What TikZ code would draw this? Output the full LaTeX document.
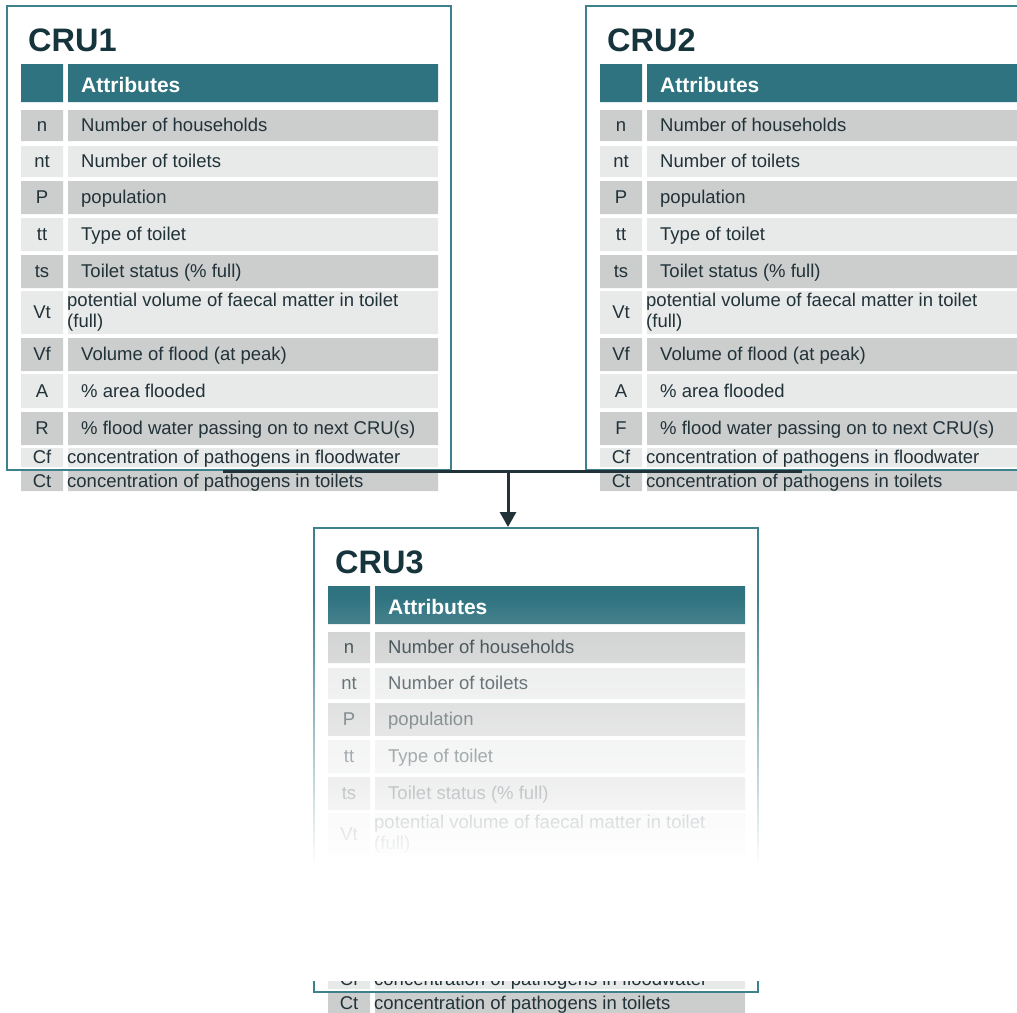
\documentclass[tikz,border=0pt]{standalone}
\usepackage{fontspec}
\setmainfont{Liberation Sans}
\usetikzlibrary{arrows.meta,fadings}

\definecolor{cteal}{RGB}{47,115,128}
\definecolor{cframe}{RGB}{62,128,140}
\definecolor{cdark}{RGB}{204,205,205}
\definecolor{clight}{RGB}{232,233,233}
\definecolor{cink}{RGB}{33,50,56}
\definecolor{ctitle}{RGB}{22,52,60}

\tikzfading[name=fade down, top color=transparent!100, bottom color=transparent!0]

\tikzset{
  crusheet/.style={x=1pt,y=-1pt},
  cruframe/.style={draw=cframe,line width=2pt,minimum width=444pt,minimum height=464pt,inner sep=0pt},
  crutitle/.style={anchor=base west,inner sep=0pt,text=ctitle,font=\fontsize{32.5}{33}\selectfont\bfseries},
  headtext/.style={anchor=base west,inner sep=0pt,text=white,font=\fontsize{21}{21}\selectfont\bfseries},
  keytext/.style={anchor=base,inner sep=0pt,yshift=-6pt,text=cink,font=\fontsize{18.5}{21}\selectfont},
  attrin/.style={anchor=base west,inner sep=0pt,xshift=14pt,yshift=-6pt,text=cink,font=\fontsize{18.5}{21}\selectfont},
  attrflush/.style={anchor=base west,inner sep=0pt,yshift=-6pt,text=cink,font=\fontsize{18.5}{21}\selectfont},
  attrwrap/.style={anchor=west,inner sep=0pt,align=left,text=cink,font=\fontsize{18.5}{21}\selectfont},
  flowline/.style={draw=cink,line width=3pt},
}

% rows: id/top/bottom/fill/style/abbreviation/description
\def\rowstop{n/110/141/cdark/attrin/n/Number of households,
  nt/146/177/clight/attrin/nt/Number of toilets,
  P/181/214/cdark/attrin/P/population,
  tt/218/251/clight/attrin/tt/Type of toilet,
  ts/255/288/cdark/attrin/ts/Toilet status (\% full),
  Vt/291/334/clight/attrwrap/Vt/potential volume of faecal matter in toilet\\(full)}
\def\rowsbottom{Cf/448/467/clight/attrflush/Cf/concentration of pathogens in floodwater,
  Ct/471/491/cdark/attrflush/Ct/concentration of pathogens in toilets}

\newcommand{\crurows}[2]{% #1 sheet number, #2 row list
  \foreach \id/\ya/\yb/\fillc/\tstyle/\abbr/\descr in #2 {
    \fill[\fillc] (21,\ya) rectangle (63,\yb) (68,\ya) rectangle (438,\yb);
    \node[keytext] (cru#1-\id k) at (42,{(\ya+\yb)/2}) {\abbr};
    \node[\tstyle] (cru#1-\id) at (67,{(\ya+\yb)/2}) {\descr};
  }}

\newcommand{\crusheet}[1]{% #1 sheet number
  \node[cruframe] (cru#1) at (229,238) {};
  \node[crutitle] (cru#1-title) at (28,51.5) {CRU#1};
  \fill[cteal] (21,64) rectangle (63,102) (68,64) rectangle (438,102);
  \node[headtext] (cru#1-head) at (81,92.5) {Attributes};
  \crurows{#1}{\rowstop}
  \crurows{#1}{\rowsbottom}}

\newcommand{\crumiddle}[2]{% #1 sheet number, #2 key of the passing-on row
  \crurows{#1}{{Vf/338/371/cdark/attrin/Vf/Volume of flood (at peak),
    A/374/408/clight/attrin/A/\% area flooded,
    R/412/445/cdark/attrin/#2/\% flood water passing on to next CRU(s)}}}

\begin{document}
\begin{tikzpicture}[crusheet]
  \useasboundingbox (0,0) rectangle (1017,1012);

  \begin{scope}
    \crusheet{1}
    \crumiddle{1}{R}
  \end{scope}
  \begin{scope}[shift={(579,0)}]
    \crusheet{2}
    \crumiddle{2}{F}
  \end{scope}
  \begin{scope}[shift={(307,522)}]
    \crusheet{3}
  \end{scope}

  % lower part of CRU3 fades out
  \fill[white,path fading=fade down] (305,596) rectangle (765,864);
  \fill[white] (305,863) rectangle (765,981);

  \coordinate (split) at (508,471);
  \draw[flowline] ([xshift=-6pt]cru1.south) -- ([xshift=-6pt]cru2.south);
  \draw[flowline,-{Triangle[width=16pt,length=15pt]}] (split) -- (split |- cru3.north);
\end{tikzpicture}
\end{document}
